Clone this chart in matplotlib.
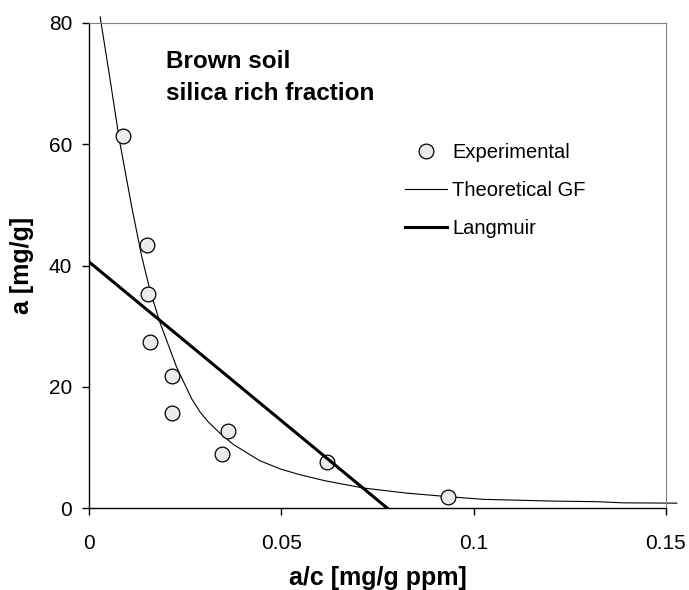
import matplotlib
matplotlib.use("Agg")
import matplotlib.pyplot as plt

# ---- data ----
exp_x = [0.0088, 0.0152, 0.0154, 0.0158, 0.0217, 0.0215, 0.0362, 0.0345, 0.0618, 0.0934]
exp_y = [61.4, 43.3, 35.3, 27.3, 21.8, 15.7, 12.75, 8.9, 7.64, 1.8]

gf_x = [0.0029, 0.0055, 0.0079, 0.0111, 0.0137, 0.0159, 0.0185, 0.0228, 0.0267,
        0.0289, 0.0310, 0.0341, 0.0375, 0.0444, 0.0499, 0.0548, 0.0613, 0.0713,
        0.0826, 0.0934, 0.1025, 0.1198, 0.1320, 0.1389, 0.1528]
gf_y = [81.0, 70.6, 60.7, 49.7, 41.5, 35.8, 30.5, 23.2, 18.0,
        15.8, 14.2, 12.3, 10.5, 7.8, 6.4, 5.5, 4.5, 3.3,
        2.45, 1.87, 1.43, 1.15, 1.04, 0.85, 0.8]

lang_x = [0.0, 0.0775]
lang_y = [40.6, 0.0]

x_ticks = [0, 0.05, 0.1, 0.15]
x_tick_labels = ["0", "0.05", "0.1", "0.15"]
y_ticks = [0, 20, 40, 60, 80]
y_tick_labels = ["0", "20", "40", "60", "80"]

plt.rcParams['font.family'] = ['Liberation Sans', 'DejaVu Sans']

W, H = 689, 590
fig = plt.figure(figsize=(W / 100, H / 100), dpi=100)
ax = fig.add_axes([89 / W, (H - 508) / H, 577 / W, 485 / H])

ax.plot(gf_x, gf_y, color='black', lw=0.8, zorder=2, clip_on=False,
        label='Theoretical GF')
ax.plot(exp_x, exp_y, linestyle='none', marker='o', markersize=10.6,
        markerfacecolor='#ebebeb', markeredgecolor='black', markeredgewidth=0.9,
        zorder=3, label='Experimental')
ax.plot(lang_x, lang_y, color='black', lw=2.2, zorder=4, label='Langmuir')

ax.set_xlim(0, 0.15)
ax.set_ylim(0, 80)
ax.set_xticks(x_ticks)
ax.set_xticklabels(x_tick_labels)
ax.set_yticks(y_ticks)
ax.set_yticklabels(y_tick_labels)

ax.tick_params(axis='both', direction='out', length=5, width=1, color='black',
               labelsize=15)
ax.tick_params(axis='x', pad=14)
ax.tick_params(axis='y', pad=7)

for s in ['left', 'bottom']:
    ax.spines[s].set_color('black')
    ax.spines[s].set_linewidth(1.0)
for s in ['top', 'right']:
    ax.spines[s].set_color('#808080')
    ax.spines[s].set_linewidth(0.8)

ax.set_xlabel('a/c [mg/g ppm]', fontsize=18, fontweight='bold', labelpad=9)
ax.set_ylabel('a [mg/g]', fontsize=18, fontweight='bold', labelpad=11)

ax.text(0.1334, 0.907, 'Brown soil', transform=ax.transAxes, fontsize=17.5,
        fontweight='bold', ha='left', va='baseline')
ax.text(0.1334, 0.841, 'silica rich fraction', transform=ax.transAxes,
        fontsize=17.5, fontweight='bold', ha='left', va='baseline')

h, l = ax.get_legend_handles_labels()
order = [1, 0, 2]
leg = ax.legend([h[i] for i in order], [l[i] for i in order],
                loc='center left', bbox_to_anchor=(405 / W, (H - 190.7) / H),
                bbox_transform=fig.transFigure, frameon=False, fontsize=14.5,
                borderpad=0, borderaxespad=0, handlelength=2.1,
                handletextpad=0.25, labelspacing=0.95, numpoints=1)

fig.savefig('out.png', dpi=100)
